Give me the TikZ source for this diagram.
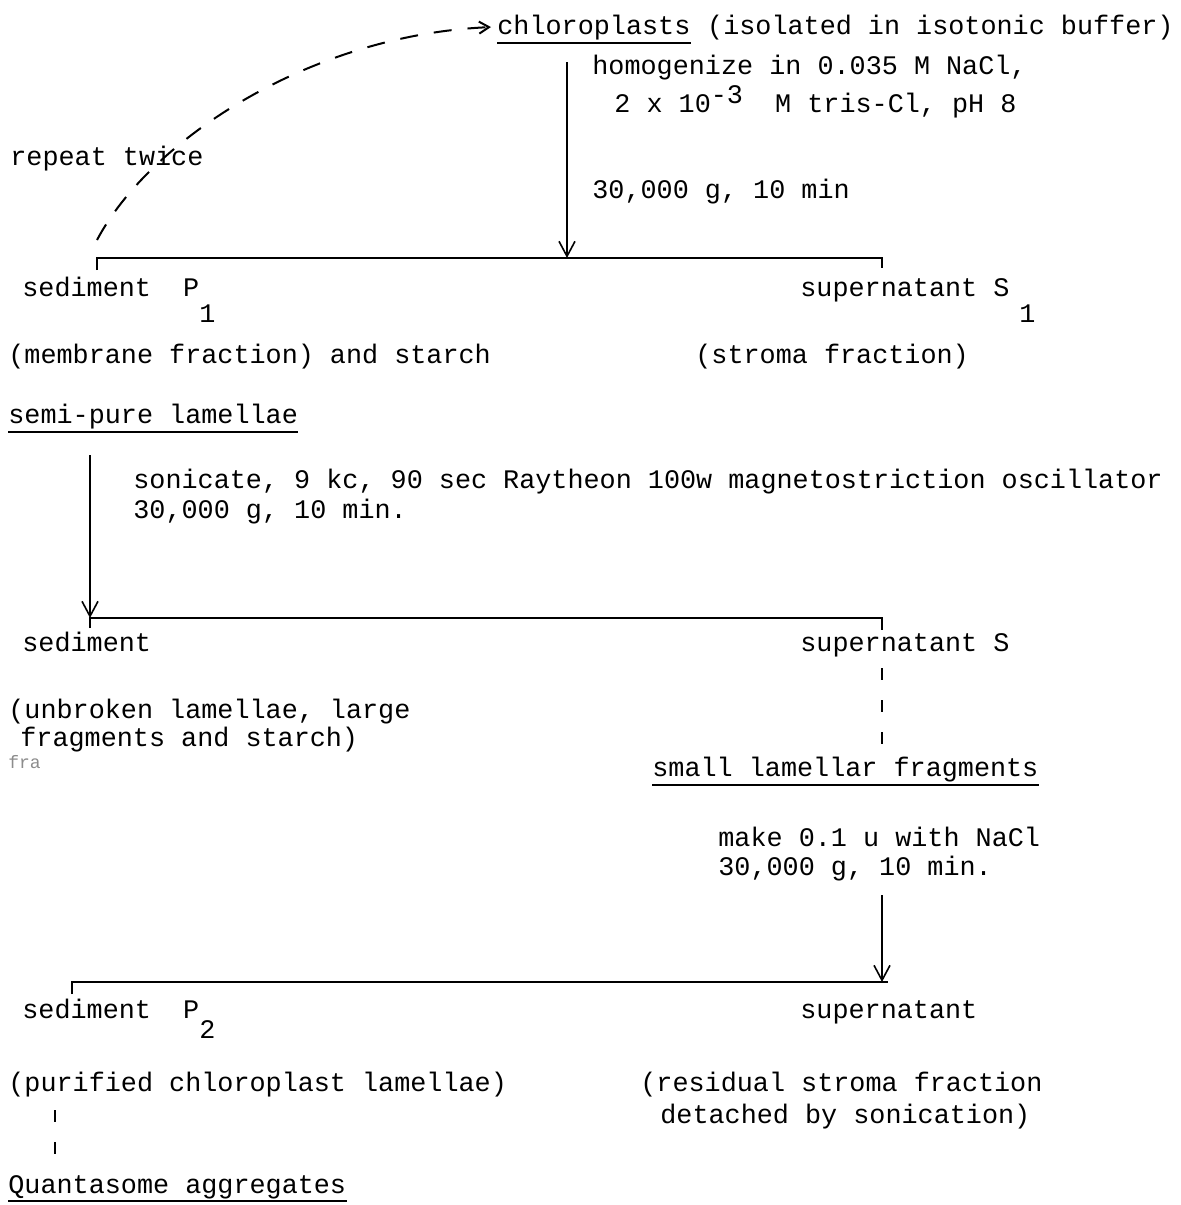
\documentclass[tikz,border=0pt]{standalone}
\usepackage{fontspec}
\setmonofont{Liberation Mono}
\usetikzlibrary{arrows.meta}
\begin{document}
\begin{tikzpicture}[
    x=0.5pt, y=-0.5pt,
    txt/.style={anchor=base west, inner sep=0pt, font=\ttfamily\fontsize{13.4}{15}\selectfont},
    arrow/.style={-{Straight Barb[length=7.5pt, width=8pt]}, line width=0.8pt},
    split/.style={line width=1.4pt},
    uline/.style={line width=1.1pt},
    back/.style={dash pattern=on 9pt off 8pt, line width=1pt, -{Straight Barb[length=5pt, width=6pt]}},
    link/.style={dash pattern=on 6pt off 10pt, line width=1pt}
]
    \useasboundingbox (0,0) rectangle (1180,1205);

    \node[txt] (chl) at (497,34) {chloroplasts};
    \node[txt] (iso) at ([xshift=8pt]chl.base east) {(isolated in isotonic buffer)};
    \draw[uline] ([yshift=-4.5pt]chl.base west) -- ([yshift=-4.5pt]chl.base east);
    \node[txt] (hom) at (592,74) {homogenize in 0.035 M NaCl,};
    \node[txt] (tris) at (614,112) {2 x 10\raisebox{4.5pt}{-3}~~M tris-Cl, pH 8};
    \node[txt] (spin1) at (592,198) {30,000 g, 10 min};
    \node[txt] (rep) at (10,165) {repeat twice};

    \coordinate (rep0) at (97,240);
    \coordinate (a1) at (567,62);
    \coordinate (b1w) at (97,258);
    \coordinate (b1m) at (567,258);
    \coordinate (b1e) at (882,258);
    \draw[split] ([yshift=-6pt]b1w) -- (b1w) -- (b1e) -- ([yshift=-5pt]b1e);
    \draw[arrow] (a1) -- (b1m);
    \draw[back] (rep0) .. controls (150,140) and (310,35) .. ([xshift=-3pt]chl.west);

    \node[txt] (sed1) at (22,296) {sediment~~P\raisebox{-13pt}{1}};
    \node[txt] (sup1) at (800,296) {supernatant~S\hspace{5pt}\raisebox{-13pt}{1}};
    \node[txt] (mem) at (8,363) {(membrane fraction) and starch};
    \node[txt] (str) at (695,363) {(stroma fraction)};
    \node[txt] (semi) at (8,423) {semi-pure lamellae};
    \draw[uline] ([yshift=-4.5pt]semi.base west) -- ([yshift=-4.5pt]semi.base east);

    \node[txt] (son) at (133,488) {sonicate, 9 kc, 90 sec Raytheon 100w magnetostriction oscillator};
    \node[txt] (spin2) at (133,518) {30,000 g, 10 min.};
    \coordinate (a2) at (90,455);
    \coordinate (b2w) at (90,618);
    \coordinate (b2e) at (882,618);
    \draw[split] ([yshift=-5pt]b2w) -- (b2w) -- (b2e) -- ([yshift=-6pt]b2e);
    \draw[arrow] (a2) -- (b2w);

    \node[txt] (sed2) at (22,651) {sediment};
    \node[txt] (sup2) at (800,651) {supernatant~S};
    \node[txt] (unb) at (8,718) {(unbroken lamellae, large};
    \node[txt] (frg) at (20,746) {fragments and starch)};
    \node[txt, text=black!45, font=\ttfamily\fontsize{9}{10}\selectfont] (fra) at (8,768) {fra};
    \node[txt] (sml) at (652,776) {small lamellar fragments};
    \draw[uline] ([yshift=-4.5pt]sml.base west) -- ([yshift=-4.5pt]sml.base east);
    \coordinate (d1) at (882,668);
    \coordinate (d2) at (882,750);
    \draw[link] (d1) -- (d2);

    \node[txt] (mk) at (718,846) {make 0.1 u with NaCl};
    \node[txt] (spin3) at (718,875) {30,000 g, 10 min.};
    \coordinate (a3) at (882,895);
    \coordinate (b3w) at (72,982);
    \coordinate (b3m) at (882,982);
    \coordinate (b3e) at (888,982);
    \draw[split] ([yshift=-6pt]b3w) -- (b3w) -- (b3e);
    \draw[arrow] (a3) -- (b3m);

    \node[txt] (sed3) at (22,1018) {sediment~~P\raisebox{-10pt}{2}};
    \node[txt] (sup3) at (800,1018) {supernatant};
    \node[txt] (pur) at (8,1091) {(purified chloroplast lamellae)};
    \node[txt] (res) at (640,1091) {(residual stroma fraction};
    \node[txt] (det) at (660,1123) {detached by sonication)};
    \coordinate (d3) at (55,1110);
    \coordinate (d4) at (55,1172);
    \draw[link] (d3) -- (d4);
    \node[txt] (qua) at (8,1193) {Quantasome aggregates};
    \draw[uline] ([yshift=-4pt]qua.base west) -- ([yshift=-4pt]qua.base east);
\end{tikzpicture}
\end{document}
